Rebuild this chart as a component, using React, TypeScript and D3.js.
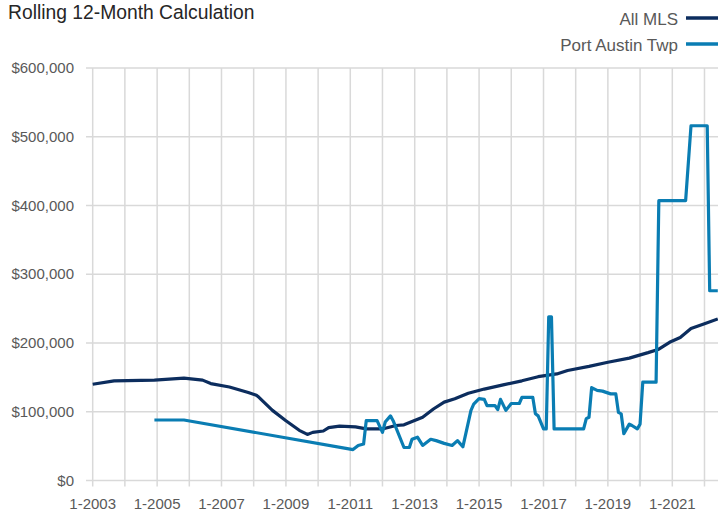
import React from "react";
import * as d3 from "d3";

const mlsDates = [
  "2003-01", "2003-09", "2004-12", "2005-11", "2006-06", "2006-09", "2007-04",
  "2007-11", "2008-02", "2008-03", "2008-08", "2009-01", "2009-06", "2009-09",
  "2009-11", "2010-03", "2010-05", "2010-09", "2011-03", "2011-07", "2012-01",
  "2012-06", "2012-09", "2013-04", "2013-08", "2013-12", "2014-04", "2014-09",
  "2015-03", "2015-10", "2016-05", "2016-11", "2017-06", "2017-10", "2018-06",
  "2019-01", "2019-09", "2020-04", "2020-08", "2020-12", "2021-04", "2021-08",
  "2022-01", "2022-06",
];
const mlsValues = [
  140000, 145000, 146000, 149000, 146000, 141000, 136000,
  128000, 124000, 121000, 102000, 87000, 73000, 67000,
  70000, 72000, 77000, 79000, 78000, 75000, 75000,
  80000, 81000, 92000, 104000, 114000, 119000, 127000,
  133000, 139000, 145000, 151000, 155000, 160000, 166000,
  172000, 178000, 186000, 191000, 201000, 208000, 221000,
  228000, 235000,
];

const portDates = [
  "2004-12", "2005-11", "2011-02", "2011-04", "2011-06", "2011-07", "2011-11",
  "2012-01", "2012-02", "2012-04", "2012-05", "2012-09", "2012-11", "2012-12",
  "2013-02", "2013-04", "2013-07", "2013-09", "2013-12", "2014-03", "2014-05",
  "2014-07", "2014-10", "2014-11", "2015-01", "2015-03", "2015-04", "2015-07",
  "2015-08", "2015-09", "2015-11", "2016-01", "2016-04", "2016-05", "2016-09",
  "2016-10", "2016-11", "2017-01", "2017-02", "2017-03", "2017-04", "2017-05",
  "2018-04", "2018-05", "2018-06", "2018-07", "2018-09", "2018-11", "2019-02",
  "2019-04", "2019-05", "2019-06", "2019-07", "2019-09", "2019-10", "2019-12",
  "2020-01", "2020-02", "2020-07", "2020-08", "2021-06", "2021-08", "2022-02",
  "2022-03", "2022-06",
];
const portValues = [
  88000, 88000, 45000, 51000, 53000, 87000, 87000,
  70000, 85000, 94000, 87000, 48000, 48000, 60000,
  63000, 51000, 60000, 58000, 54000, 51000, 58000,
  49000, 102000, 111000, 119000, 118000, 109000, 109000,
  103000, 118000, 102000, 112000, 112000, 121000, 121000,
  97000, 94000, 75000, 75000, 238000, 238000, 75000,
  75000, 90000, 92000, 135000, 131000, 130000, 126000,
  126000, 99000, 97000, 68000, 82000, 80000, 75000,
  82000, 143000, 143000, 407000, 407000, 516000, 516000,
  276000, 276000,
];

const yTicks = [0, 100000, 200000, 300000, 400000, 500000, 600000];
const gridYears = d3.range(2003, 2023);
const labelYears = d3.range(2003, 2022, 2);

const seriesNames = ["All MLS", "Port Austin Twp"];
const seriesColors = ["#0c2d5e", "#0a7db3"];

const W = 718;
const H = 515;
const FONT = "'Liberation Sans', Arial, sans-serif";

export default function App() {
  const parse = d3.timeParse("%Y-%m");
  const x = d3
    .scaleTime()
    .domain([new Date(2003, 0, 1), new Date(2022, 5, 1)])
    .range([92.7, 717.8]);
  const y = d3.scaleLinear().domain([0, 600000]).range([480.5, 68]);
  const fmt = d3.format("$,.0f");

  const line = d3
    .line<[Date, number]>()
    .x((d) => x(d[0]))
    .y((d) => y(d[1]));

  const mls = mlsDates.map((d, i) => [parse(d) as Date, mlsValues[i]] as [Date, number]);
  const port = portDates.map((d, i) => [parse(d) as Date, portValues[i]] as [Date, number]);

  return (
    <svg
      width={W}
      height={H}
      style={{ position: "absolute", left: 0, top: 0, background: "#fff" }}
      fontFamily={FONT}
    >
      <text x={8} y={19} fontSize={19.3} fill="#262626">
        Rolling 12-Month Calculation
      </text>

      {seriesNames.map((name, i) => (
        <g key={name}>
          <text x={678} y={25 + i * 26} fontSize={17} fill="#595959" textAnchor="end">
            {name}
          </text>
          <line
            x1={686}
            x2={718}
            y1={18 + i * 26}
            y2={18 + i * 26}
            stroke={seriesColors[i]}
            strokeWidth={3.5}
          />
        </g>
      ))}

      {yTicks.map((t) => (
        <g key={t}>
          <line x1={86} x2={W} y1={y(t)} y2={y(t)} stroke="#d9d9d9" strokeWidth={1.5} />
          <text x={74} y={y(t) + 5} fontSize={15} fill="#595959" textAnchor="end">
            {fmt(t)}
          </text>
        </g>
      ))}

      {gridYears.map((yr) => (
        <line
          key={yr}
          x1={x(new Date(yr, 0, 1))}
          x2={x(new Date(yr, 0, 1))}
          y1={y(600000)}
          y2={y(0) + 6}
          stroke="#d9d9d9"
          strokeWidth={1.5}
        />
      ))}

      {labelYears.map((yr) => (
        <text
          key={yr}
          x={x(new Date(yr, 0, 1))}
          y={509}
          fontSize={15}
          fill="#595959"
          textAnchor="middle"
        >
          {"1-" + yr}
        </text>
      ))}

      <path d={line(mls) ?? ""} fill="none" stroke={seriesColors[0]} strokeWidth={3.2} strokeLinejoin="round" />
      <path d={line(port) ?? ""} fill="none" stroke={seriesColors[1]} strokeWidth={3.2} strokeLinejoin="round" />
    </svg>
  );
}
